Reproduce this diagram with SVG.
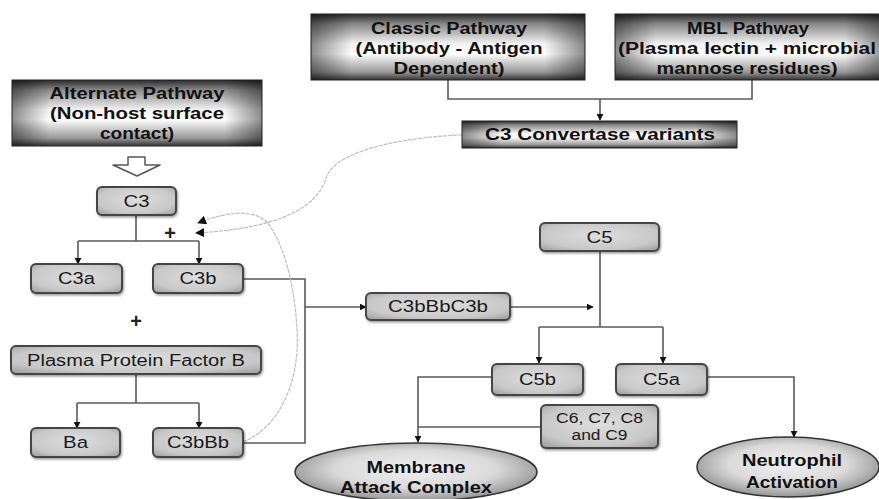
<svg xmlns="http://www.w3.org/2000/svg" width="879" height="499" viewBox="0 0 879 499">
  <defs>
    <style>
      .hdr-t { font-family: "Liberation Sans", Arial, sans-serif; font-weight: bold; font-size: 16px; fill: #111; text-anchor: middle; }
      .box-t { font-family: "Liberation Sans", Arial, sans-serif; font-size: 16px; fill: #1a1a1a; text-anchor: middle; }
      .small-t { font-family: "Liberation Sans", Arial, sans-serif; font-size: 14px; fill: #1a1a1a; text-anchor: middle; }
      .ell-t { font-family: "Liberation Sans", Arial, sans-serif; font-weight: bold; font-size: 16px; fill: #111; text-anchor: middle; }
      .plus { font-family: "Liberation Sans", Arial, sans-serif; font-weight: bold; font-size: 20px; fill: #222; text-anchor: middle; }
      .box { fill: url(#boxFill); stroke: #444; stroke-width: 2; filter: url(#shadow); }
      .ell { fill: url(#ellFill); stroke: #333; stroke-width: 1.5; }
      .link { fill: none; stroke: #5a5a5a; stroke-width: 1.6; }
      .curve { fill: none; stroke: #bdbdbd; stroke-width: 1.2; stroke-dasharray: 4 1; }
    </style>
    <linearGradient id="hdrV" x1="0" y1="0" x2="0" y2="1">
      <stop offset="0" stop-color="#2a2a2a"/>
      <stop offset="0.15" stop-color="#888"/>
      <stop offset="0.45" stop-color="#f2f2f2"/>
      <stop offset="0.6" stop-color="#ffffff"/>
      <stop offset="0.88" stop-color="#999"/>
      <stop offset="1" stop-color="#333"/>
    </linearGradient>
    <linearGradient id="hdrH" x1="0" y1="0" x2="1" y2="0">
      <stop offset="0" stop-color="#000" stop-opacity="0.45"/>
      <stop offset="0.15" stop-color="#000" stop-opacity="0"/>
      <stop offset="0.85" stop-color="#000" stop-opacity="0"/>
      <stop offset="1" stop-color="#000" stop-opacity="0.45"/>
    </linearGradient>
    <radialGradient id="boxFill" cx="0.5" cy="0.45" r="0.7">
      <stop offset="0" stop-color="#dedede"/>
      <stop offset="0.7" stop-color="#c8c8c8"/>
      <stop offset="1" stop-color="#a0a0a0"/>
    </radialGradient>
    <radialGradient id="ellFill" cx="0.5" cy="0.45" r="0.55">
      <stop offset="0" stop-color="#f0f0f0"/>
      <stop offset="0.6" stop-color="#dadada"/>
      <stop offset="1" stop-color="#949494"/>
    </radialGradient>
    <filter id="shadow" x="-10%" y="-20%" width="125%" height="150%">
      <feDropShadow dx="1" dy="1.5" stdDeviation="0.8" flood-color="#000" flood-opacity="0.4"/>
    </filter>
    <marker id="arrow" viewBox="0 0 10 10" refX="9" refY="5" markerWidth="7" markerHeight="7" markerUnits="userSpaceOnUse" orient="auto">
      <path d="M0,0 L10,5 L0,10 z" fill="#111"/>
    </marker>
    <marker id="arrowCurve" viewBox="0 0 10 10" refX="9" refY="5" markerWidth="9" markerHeight="9" markerUnits="userSpaceOnUse" orient="auto">
      <path d="M0,0 L10,5 L0,10 z" fill="#111"/>
    </marker>
  </defs>

  <rect width="879" height="499" fill="#fff"/>

  <!-- connectors -->
  <g id="connectors">
    <!-- classic + MBL merge into convertase -->
    <path class="link" d="M448,80 V99 H752 V80"/>
    <path class="link" d="M600,99 V120" marker-end="url(#arrow)"/>
    <!-- C3 split -->
    <path class="link" d="M136,215 V241"/>
    <path class="link" d="M78,241 H199"/>
    <path class="link" d="M78,241 V264" marker-end="url(#arrow)"/>
    <path class="link" d="M199,241 V264" marker-end="url(#arrow)"/>
    <!-- factor B split -->
    <path class="link" d="M136,374 V403"/>
    <path class="link" d="M77,403 H199"/>
    <path class="link" d="M77,403 V428" marker-end="url(#arrow)"/>
    <path class="link" d="M199,403 V428" marker-end="url(#arrow)"/>
    <!-- C3b + C3bBb join -->
    <path class="link" d="M243,279 H305 V443 H243"/>
    <path class="link" d="M305,307 H366" marker-end="url(#arrow)"/>
    <path class="link" d="M510,307 H593" marker-end="url(#arrow)"/>
    <!-- C5 split -->
    <path class="link" d="M600,251 V327"/>
    <path class="link" d="M539,327 H663"/>
    <path class="link" d="M539,327 V363" marker-end="url(#arrow)"/>
    <path class="link" d="M663,327 V363" marker-end="url(#arrow)"/>
    <!-- to outcomes -->
    <path class="link" d="M492,377 H418 V442" marker-end="url(#arrow)"/>
    <path class="link" d="M541,427 H418"/>
    <path class="link" d="M707,377 H794 V437" marker-end="url(#arrow)"/>
    <!-- feedback curves -->
    <path class="curve" d="M462,135 C405,137 335,150 326,178 C318,205 285,228 196,233" marker-end="url(#arrowCurve)"/>
    <path class="curve" d="M243,442 C285,425 300,372 297,330 C295,290 286,250 270,226 C258,208 228,211 198,223" marker-end="url(#arrowCurve)"/>
  </g>

  <!-- pathway headers -->
  <g id="classic">
    <rect x="311" y="14" width="274" height="66" fill="url(#hdrV)"/>
    <rect x="311" y="14" width="274" height="66" fill="url(#hdrH)" stroke="#222" stroke-width="1"/>
    <text class="hdr-t" x="449" y="34" textLength="156" lengthAdjust="spacingAndGlyphs">Classic Pathway</text>
    <text class="hdr-t" x="449" y="54" textLength="187" lengthAdjust="spacingAndGlyphs">(Antibody - Antigen</text>
    <text class="hdr-t" x="449" y="74" textLength="111" lengthAdjust="spacingAndGlyphs">Dependent)</text>
  </g>
  <g id="mbl">
    <rect x="615" y="14" width="270" height="66" fill="url(#hdrV)"/>
    <rect x="615" y="14" width="270" height="66" fill="url(#hdrH)" stroke="#222" stroke-width="1"/>
    <text class="hdr-t" x="748" y="34" textLength="122" lengthAdjust="spacingAndGlyphs">MBL Pathway</text>
    <text class="hdr-t" x="747" y="54" textLength="258" lengthAdjust="spacingAndGlyphs">(Plasma lectin + microbial</text>
    <text class="hdr-t" x="747" y="74" textLength="181" lengthAdjust="spacingAndGlyphs">mannose residues)</text>
  </g>
  <g id="convertase">
    <rect x="462" y="121" width="275" height="27" fill="url(#hdrV)"/>
    <rect x="462" y="121" width="275" height="27" fill="url(#hdrH)" stroke="#222" stroke-width="1"/>
    <text class="hdr-t" x="600" y="140" textLength="230" lengthAdjust="spacingAndGlyphs">C3 Convertase variants</text>
  </g>
  <g id="alternate">
    <rect x="12" y="80" width="250" height="66" fill="url(#hdrV)"/>
    <rect x="12" y="80" width="250" height="66" fill="url(#hdrH)" stroke="#222" stroke-width="1"/>
    <text class="hdr-t" x="137" y="99" textLength="175" lengthAdjust="spacingAndGlyphs">Alternate Pathway</text>
    <text class="hdr-t" x="137" y="119" textLength="174" lengthAdjust="spacingAndGlyphs">(Non-host surface</text>
    <text class="hdr-t" x="137" y="139" textLength="74" lengthAdjust="spacingAndGlyphs">contact)</text>
  </g>
  <g id="alternate-arrow">
    <path d="M128,157 H145 V165 H160 L137,176 L113,165 H128 Z" fill="#fff" stroke="#555" stroke-width="1.5" stroke-linejoin="round"/>
  </g>

  <!-- component nodes -->
  <g id="c3">
    <rect class="box" x="97" y="187" width="79" height="28" rx="5"/>
    <text class="box-t" x="136.5" y="207" textLength="26" lengthAdjust="spacingAndGlyphs">C3</text>
  </g>
  <g id="plus1"><text class="plus" x="170" y="240">+</text></g>
  <g id="c3a">
    <rect class="box" x="31" y="264" width="91" height="29" rx="5"/>
    <text class="box-t" x="76.5" y="284" textLength="37" lengthAdjust="spacingAndGlyphs">C3a</text>
  </g>
  <g id="c3b">
    <rect class="box" x="153" y="264" width="90" height="29" rx="5"/>
    <text class="box-t" x="198" y="284" textLength="37" lengthAdjust="spacingAndGlyphs">C3b</text>
  </g>
  <g id="plus2"><text class="plus" x="136" y="328">+</text></g>
  <g id="factor-b">
    <rect class="box" x="11" y="346" width="250" height="28" rx="5"/>
    <text class="box-t" x="136" y="366" textLength="218" lengthAdjust="spacingAndGlyphs">Plasma Protein Factor B</text>
  </g>
  <g id="ba">
    <rect class="box" x="31" y="428" width="89" height="29" rx="5"/>
    <text class="box-t" x="75.5" y="448" textLength="25" lengthAdjust="spacingAndGlyphs">Ba</text>
  </g>
  <g id="c3bbb">
    <rect class="box" x="153" y="428" width="90" height="29" rx="5"/>
    <text class="box-t" x="198" y="448" textLength="62" lengthAdjust="spacingAndGlyphs">C3bBb</text>
  </g>
  <g id="c3bbbc3b">
    <rect class="box" x="366" y="293" width="144" height="27" rx="5"/>
    <text class="box-t" x="438" y="312" textLength="100" lengthAdjust="spacingAndGlyphs">C3bBbC3b</text>
  </g>
  <g id="c5">
    <rect class="box" x="540" y="223" width="119" height="28" rx="5"/>
    <text class="box-t" x="599.5" y="243" textLength="26" lengthAdjust="spacingAndGlyphs">C5</text>
  </g>
  <g id="c5b">
    <rect class="box" x="492" y="364" width="91" height="31" rx="5"/>
    <text class="box-t" x="537.5" y="385" textLength="37" lengthAdjust="spacingAndGlyphs">C5b</text>
  </g>
  <g id="c5a">
    <rect class="box" x="616" y="364" width="91" height="31" rx="5"/>
    <text class="box-t" x="661.5" y="385" textLength="37" lengthAdjust="spacingAndGlyphs">C5a</text>
  </g>
  <g id="c6-c9">
    <rect class="box" x="541" y="405" width="117" height="43" rx="5"/>
    <text class="small-t" x="599.5" y="423" textLength="87" lengthAdjust="spacingAndGlyphs">C6, C7, C8</text>
    <text class="small-t" x="599.5" y="440" textLength="56" lengthAdjust="spacingAndGlyphs">and C9</text>
  </g>

  <!-- outcomes -->
  <g id="mac">
    <ellipse class="ell" cx="416" cy="472" rx="121" ry="29"/>
    <text class="ell-t" x="416" y="473" textLength="99" lengthAdjust="spacingAndGlyphs">Membrane</text>
    <text class="ell-t" x="416" y="493" textLength="152" lengthAdjust="spacingAndGlyphs">Attack Complex</text>
  </g>
  <g id="neutrophil">
    <ellipse class="ell" cx="788" cy="467" rx="91" ry="30"/>
    <text class="ell-t" x="792" y="466" textLength="100" lengthAdjust="spacingAndGlyphs">Neutrophil</text>
    <text class="ell-t" x="792" y="488" textLength="92" lengthAdjust="spacingAndGlyphs">Activation</text>
  </g>
</svg>
